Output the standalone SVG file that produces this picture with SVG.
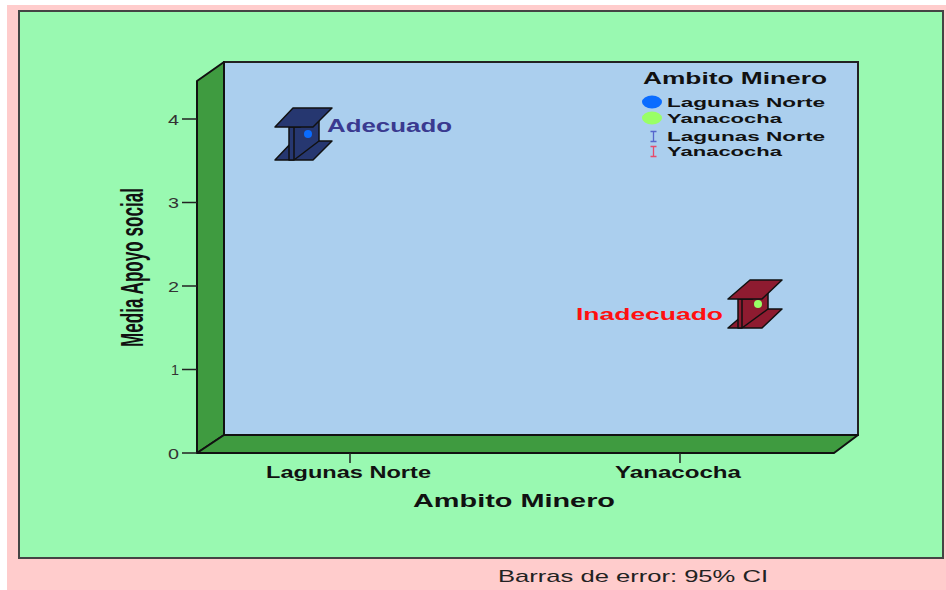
<svg xmlns="http://www.w3.org/2000/svg" width="946" height="590" viewBox="0 0 946 590">
<style>
.lbl{font-family:"Liberation Sans",Arial,sans-serif;font-weight:bold;fill:#111}
.tick{font-family:"Liberation Sans",Arial,sans-serif;font-size:15px;fill:#333;text-anchor:end}
.ax{stroke:#222;stroke-width:1.5;fill:none}
.beam{stroke:#111;stroke-width:1.5;stroke-linejoin:round}
.nav{fill:#263770}
.mar{fill:#8E1B30}
</style>
<rect x="0" y="0" width="946" height="590" fill="#ffffff"/>
<rect x="7" y="5" width="939" height="585" fill="#FFCCCC"/>
<rect x="19" y="11" width="924" height="547" fill="#99F9B1" stroke="#444" stroke-width="2"/>

<g id="plot-frame">
  <rect x="224" y="62" width="634" height="373" fill="#ABCFEE" stroke="#222" stroke-width="2"/>
  <polygon points="197,81 224,62 224,435 197,453" fill="#3F9B40" stroke="#111" stroke-width="2" stroke-linejoin="round"/>
  <polygon points="197,453 224,435 858,435 834,453" fill="#3F9B40" stroke="#111" stroke-width="2" stroke-linejoin="round"/>
</g>

<g id="y-axis">
  <path class="ax" d="M182,453 H197 M182,369.5 H197 M182,286 H197 M182,202.5 H197 M182,119 H197"/>
  <text class="tick" x="179" y="458.5" textLength="11" lengthAdjust="spacingAndGlyphs">0</text>
  <text class="tick" x="179" y="375" textLength="8" lengthAdjust="spacingAndGlyphs">1</text>
  <text class="tick" x="179" y="291.5" textLength="11" lengthAdjust="spacingAndGlyphs">2</text>
  <text class="tick" x="179" y="208" textLength="11" lengthAdjust="spacingAndGlyphs">3</text>
  <text class="tick" x="179" y="124.5" textLength="11" lengthAdjust="spacingAndGlyphs">4</text>
  <text class="lbl" font-size="21" text-anchor="middle" textLength="159" lengthAdjust="spacingAndGlyphs" transform="translate(143,267.5) rotate(-90) scale(1,1.45)">Media Apoyo social</text>
</g>

<g id="x-axis">
  <path class="ax" d="M350,453 V463 M680,453 V463"/>
  <text class="lbl" font-size="16" x="266" y="478" textLength="165" lengthAdjust="spacingAndGlyphs">Lagunas Norte</text>
  <text class="lbl" font-size="16" x="615" y="478" textLength="126" lengthAdjust="spacingAndGlyphs">Yanacocha</text>
  <text class="lbl" font-size="18" x="413" y="507" textLength="202" lengthAdjust="spacingAndGlyphs">Ambito Minero</text>
</g>

<g id="bar-lagunas">
  <polygon class="beam nav" points="275,160 313,160 332,141 293,141"/>
  <polygon class="beam nav" points="289,127 289,160 294,160 319,141 319,115 300,127"/>
  <line class="beam" x1="294" y1="127" x2="294" y2="160"/>
  <circle cx="308" cy="134" r="4" fill="#0A6CFF"/>
  <polygon class="beam nav" points="275,127 313,127 332,108 293,108"/>
  <text class="lbl" font-size="18" x="327" y="132" fill="#3A3A90" style="fill:#3A3A90" textLength="125" lengthAdjust="spacingAndGlyphs">Adecuado</text>
</g>

<g id="bar-yanacocha">
  <polygon class="beam mar" points="728,328 762,328 782,309 750,309"/>
  <polygon class="beam mar" points="738,299 738,328 742,328 768,309 768,290 752,299"/>
  <line class="beam" x1="742" y1="299" x2="742" y2="328"/>
  <circle cx="758" cy="304" r="4" fill="#99FF66"/>
  <polygon class="beam mar" points="728,299 762,299 782,280 750,280"/>
  <text class="lbl" font-size="17" x="576" y="320" style="fill:#FF1010" textLength="147" lengthAdjust="spacingAndGlyphs">Inadecuado</text>
</g>

<g id="legend">
  <text class="lbl" font-size="16" x="643" y="84" textLength="184" lengthAdjust="spacingAndGlyphs">Ambito Minero</text>
  <ellipse cx="652" cy="102" rx="10" ry="6.5" fill="#0A6CFF"/>
  <text class="lbl" font-size="13.5" x="667" y="107" textLength="158" lengthAdjust="spacingAndGlyphs">Lagunas Norte</text>
  <ellipse cx="652" cy="118" rx="10" ry="6.5" fill="#99FF66"/>
  <text class="lbl" font-size="13.5" x="667" y="122.5" textLength="115" lengthAdjust="spacingAndGlyphs">Yanacocha</text>
  <path d="M650.5,131.5 h6 M653.5,131.5 v10 M650.5,141.5 h6" stroke="#5566CC" stroke-width="1.3" fill="none"/>
  <text class="lbl" font-size="13.5" x="667" y="141" textLength="158" lengthAdjust="spacingAndGlyphs">Lagunas Norte</text>
  <path d="M650.5,146.5 h6 M653.5,146.5 v10 M650.5,156.5 h6" stroke="#E84A6A" stroke-width="1.3" fill="none"/>
  <text class="lbl" font-size="13.5" x="667" y="156" textLength="115" lengthAdjust="spacingAndGlyphs">Yanacocha</text>
</g>

<text x="498" y="582" font-family="'Liberation Sans',Arial,sans-serif" font-size="17" fill="#222" textLength="270" lengthAdjust="spacingAndGlyphs">Barras de error: 95% CI</text>
</svg>
